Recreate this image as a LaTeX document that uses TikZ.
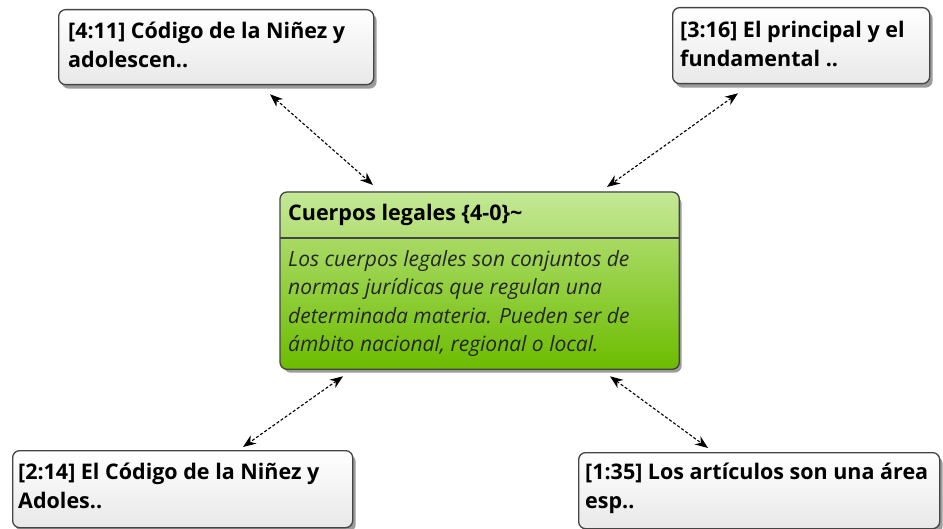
\documentclass[tikz,border=0pt]{standalone}
\usepackage{fontspec}
\setmainfont{Open Sans}
\usetikzlibrary{shadows,arrows.meta}
\definecolor{hdrtop}{HTML}{C4E896}
\definecolor{hdrbot}{HTML}{B2DE74}
\definecolor{bodytop}{HTML}{A9DA64}
\definecolor{bodybot}{HTML}{6CBC00}
\definecolor{edge}{HTML}{444444}
\begin{document}
\begin{tikzpicture}[x=1pt,y=-1pt,
  quote/.style={draw=edge, line width=1.3pt, rounded corners=7pt,
    top color=white, bottom color=black!9, anchor=north west, inner sep=0pt,
    drop shadow={shadow xshift=3pt,shadow yshift=-4pt,fill=black!65,opacity=0.6}},
  qtext/.style={anchor=base west, align=left, inner sep=0pt, text=black,
    font=\bfseries\fontsize{21.5}{29}\selectfont},
  btext/.style={anchor=base west, align=left, inner sep=0pt, text=black!85,
    font=\itshape\fontsize{21}{28.5}\selectfont},
  link/.style={densely dashed, line width=1.1pt,
    {Stealth[length=13pt,width=10pt]}-{Stealth[length=13pt,width=10pt]}}]

\useasboundingbox (0,0) rectangle (943,529);

% outer boxes
\node[quote, minimum width=315pt, minimum height=75pt] (n1) at (58,9) {};
\node[qtext] (t1) at (68,68) {[4:11] Código de la Niñez y\\adolescen..};

\node[quote, minimum width=257pt, minimum height=76pt] (n2) at (672,7) {};
\node[qtext] (t2) at (680,67) {[3:16] El principal y el\\fundamental ..};

\node[quote, minimum width=340pt, minimum height=77pt] (n3) at (12,450) {};
\node[qtext] (t3) at (18,508) {[2:14] El Código de la Niñez y\\Adoles..};

\node[quote, minimum width=361pt, minimum height=76pt] (n4) at (578,452) {};
\node[qtext] (t4) at (585,508) {[1:35] Los artículos son una área\\esp..};

% central box
\node[draw=edge, line width=1.3pt, rounded corners=7pt, anchor=north west,
  minimum width=398pt, minimum height=176pt, inner sep=0pt, fill=bodybot,
  drop shadow={shadow xshift=3pt,shadow yshift=-4pt,fill=black!65,opacity=0.6}] (c) at (280,192) {};
\begin{scope}
  \clip[rounded corners=7pt] (c.north west) rectangle (c.south east);
  \shade[top color=hdrtop, bottom color=hdrbot] (c.north west) rectangle ([yshift=-46pt]c.north east);
  \shade[top color=bodytop, bottom color=bodybot] ([yshift=-46pt]c.north west) rectangle (c.south east);
\end{scope}
\draw[edge, line width=1.1pt] ([yshift=-46pt]c.north west) -- ([yshift=-46pt]c.north east);
\draw[edge, line width=1.3pt, rounded corners=7pt] (c.north west) rectangle (c.south east);
\node[qtext] (ch) at (288,221) {Cuerpos legales \{4-0\}\char`~};
\node[btext] (cb) at (288,352) {Los cuerpos legales son conjuntos de\\normas jurídicas que regulan una\\determinada materia. Pueden ser de\\ámbito nacional, regional o local.};

% connectors
\draw[link] ([xshift=212pt,yshift=-9pt]n1.south west) -- ([xshift=93pt,yshift=7pt]c.north west);
\draw[link] ([xshift=66pt,yshift=-9pt]n2.south west) -- ([xshift=327pt,yshift=5pt]c.north west);
\draw[link] ([xshift=63pt,yshift=-7pt]c.south west) -- ([xshift=231pt,yshift=3pt]n3.north west);
\draw[link] ([xshift=330pt,yshift=-7pt]c.south west) -- ([xshift=130pt,yshift=4pt]n4.north west);
\end{tikzpicture}
\end{document}
